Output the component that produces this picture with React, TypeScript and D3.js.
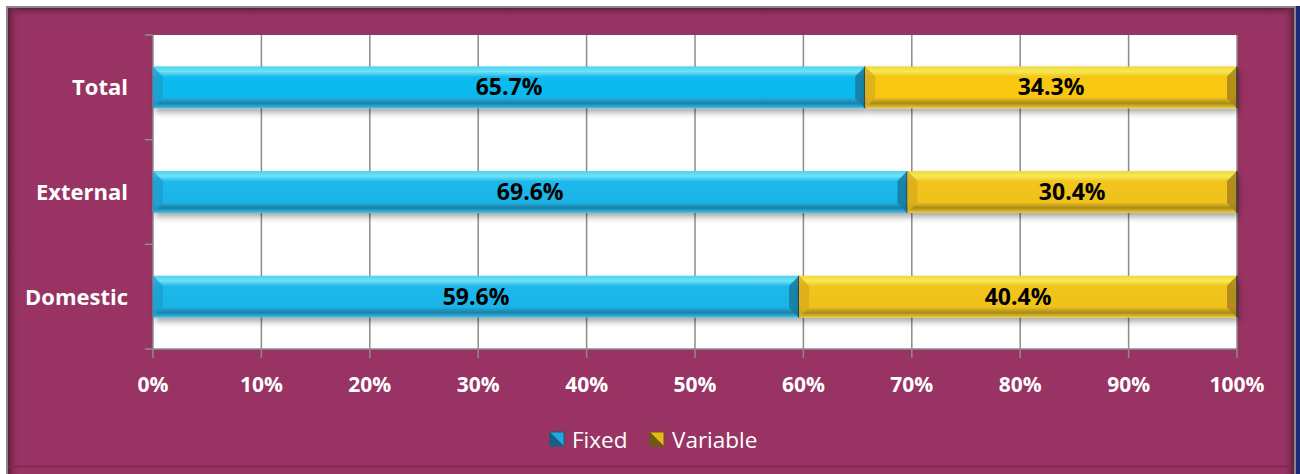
import React from 'react';
import * as d3 from 'd3';

const categories = ['Total', 'External', 'Domestic'];
const fixedValues = [65.7, 69.6, 59.6];
const variableValues = [34.3, 30.4, 40.4];
const seriesNames = ['Fixed', 'Variable'];
const xTicks = [0, 10, 20, 30, 40, 50, 60, 70, 80, 90, 100];

const W = 1300;
const H = 474;
const plot = { left: 153, right: 1237, top: 35, bottom: 349 };
const font = '"Open Sans", Lato, sans-serif';

const App = () => {
  const x = d3.scaleLinear().domain([0, 100]).range([plot.left, plot.right]);
  const y = d3.scaleBand().domain(categories).range([plot.top, plot.bottom]).paddingInner(0.6).paddingOuter(0.3);
  const bh = y.bandwidth();
  const yEdges = d3.scaleBand().domain(categories).range([plot.top, plot.bottom]);

  const rows = categories.map((c, i) => ({
    cat: c,
    segs: [
      { key: 'fixed', x0: 0, x1: fixedValues[i], v: fixedValues[i] },
      { key: 'var', x0: fixedValues[i], x1: 100, v: variableValues[i] },
    ],
  }));

  return (
    <svg width={W} height={H} style={{ display: 'block', position: 'absolute', left: 0, top: 0 }}>
      <defs>
        <linearGradient id="gFixed" x1="0" y1="0" x2="0" y2="1">
          <stop offset="0" stopColor="#4fd0ef" />
          <stop offset="0.12" stopColor="#6fe3f5" />
          <stop offset="0.25" stopColor="#1fb8ec" />
          <stop offset="0.75" stopColor="#1fb3e6" />
          <stop offset="0.88" stopColor="#1a7fa6" />
          <stop offset="1" stopColor="#3fc2ec" />
        </linearGradient>
        <linearGradient id="gVar" x1="0" y1="0" x2="0" y2="1">
          <stop offset="0" stopColor="#f2d63a" />
          <stop offset="0.12" stopColor="#f5ea55" />
          <stop offset="0.25" stopColor="#f2c41c" />
          <stop offset="0.75" stopColor="#eec11c" />
          <stop offset="0.88" stopColor="#a88a1c" />
          <stop offset="1" stopColor="#f0cd35" />
        </linearGradient>
        <linearGradient id="frameTop" x1="0" y1="0" x2="0" y2="1">
          <stop offset="0" stopColor="#5e1e3c" />
          <stop offset="1" stopColor="#983363" stopOpacity="0" />
        </linearGradient>
        <linearGradient id="frameLeft" x1="0" y1="0" x2="1" y2="0">
          <stop offset="0" stopColor="#5e1e3c" />
          <stop offset="1" stopColor="#983363" stopOpacity="0" />
        </linearGradient>
        <linearGradient id="frameRight" x1="1" y1="0" x2="0" y2="0">
          <stop offset="0" stopColor="#5e1e3c" />
          <stop offset="1" stopColor="#983363" stopOpacity="0" />
        </linearGradient>
        <filter id="shadow" x="-5%" y="-30%" width="110%" height="180%">
          <feDropShadow dx="2" dy="4" stdDeviation="3" floodColor="#000" floodOpacity="0.35" />
        </filter>
      </defs>

      <rect x={0} y={0} width={W} height={H} fill="#ffffff" />

      {/* frame */}
      <rect x={1296} y={6} width={4} height={H} fill="#1c2a78" />
      <rect x={6} y={6} width={1290} height={H} fill="#888" />
      <rect x={8} y={8} width={1286} height={H} fill="#983363" />
      <rect x={8} y={8} width={1286} height={10} fill="url(#frameTop)" />
      <rect x={8} y={8} width={12} height={H} fill="url(#frameLeft)" />
      <rect x={1282} y={8} width={12} height={H} fill="url(#frameRight)" />
      <line x1={8} x2={1294} y1={466.5} y2={466.5} stroke="#7d2850" strokeWidth={1.5} />

      {/* plot area */}
      <rect x={plot.left} y={plot.top} width={plot.right - plot.left} height={plot.bottom - plot.top} fill="#fff" />
      {xTicks.map(t => (
        <line key={t} x1={x(t)} x2={x(t)} y1={plot.top} y2={plot.bottom + 9} stroke="#8c8c8c" strokeWidth={1.5} />
      ))}
      <line x1={plot.left} x2={plot.right} y1={plot.bottom} y2={plot.bottom} stroke="#8c8c8c" strokeWidth={1.5} />
      {[...categories.map(c => yEdges(c) as number), plot.bottom].map((v, i) => (
        <line key={i} x1={plot.left - 8} x2={plot.left} y1={v} y2={v} stroke="#8c8c8c" strokeWidth={1.5} />
      ))}

      {/* bars */}
      {rows.map((r, ri) => (
        <g key={r.cat}>
          {r.segs.map(s => {
            const x0 = x(s.x0);
            const x1 = x(s.x1);
            const y0 = y(r.cat) as number;
            const b = 10;
            return (
              <g key={s.key}>
                <rect x={x0} y={y0} width={x1 - x0} height={bh} fill={s.key === 'fixed' ? 'url(#gFixed)' : 'url(#gVar)'} filter="url(#shadow)" />
                {ri === 0 && (
                  <rect x={x0} y={y0 + bh * 0.25} width={x1 - x0} height={bh * 0.5} fill={s.key === 'fixed' ? '#00bdf2' : '#ffca08'} opacity={0.6} />
                )}
                <polygon points={`${x0},${y0} ${x0 + b},${y0 + b} ${x0 + b},${y0 + bh - b} ${x0},${y0 + bh}`} fill={s.key === 'fixed' ? '#1d9fcf' : '#d9ad1b'} opacity={0.8} />
                <polygon points={`${x1},${y0} ${x1 - b},${y0 + b} ${x1 - b},${y0 + bh - b} ${x1},${y0 + bh}`} fill={s.key === 'fixed' ? '#167aa0' : '#a8841a'} opacity={0.85} />
                <line x1={x1} x2={x1} y1={y0} y2={y0 + bh} stroke="#333" strokeWidth={1.5} />
                <text x={(x0 + x1) / 2} y={y0 + bh / 2 + 8} textAnchor="middle" fontFamily={font} fontWeight="bold" fontSize={23} fill="#000">
                  {s.v.toFixed(1)}%
                </text>
              </g>
            );
          })}
        </g>
      ))}

      {/* category labels */}
      {categories.map(c => (
        <text key={c} x={128} y={(y(c) as number) + bh / 2 + 8} textAnchor="end" fontFamily={font} fontWeight="bold" fontSize={22} fill="#fff">
          {c}
        </text>
      ))}

      {/* x tick labels */}
      {xTicks.map(t => (
        <text key={t} x={x(t)} y={392} textAnchor="middle" fontFamily={font} fontWeight="bold" fontSize={21} fill="#fff">
          {t}%
        </text>
      ))}

      {/* legend */}
      <g transform="translate(550,432)">
        <rect x={0} y={0} width={14} height={14} fill="#22a8dc" stroke="#0e5f80" strokeWidth={1} />
        <polygon points="0,0 14,14 0,14" fill="#135f85" />
        <text x={22} y={16} fontFamily={font} fontSize={22.5} fill="#fff">{seriesNames[0]}</text>
        <rect x={100} y={0} width={14} height={14} fill="#e6b816" stroke="#6b5610" strokeWidth={1} />
        <polygon points="100,0 114,14 100,14" fill="#6f5a0f" />
        <text x={122} y={16} fontFamily={font} fontSize={22.5} fill="#fff">{seriesNames[1]}</text>
      </g>
    </svg>
  );
};

export default App;
